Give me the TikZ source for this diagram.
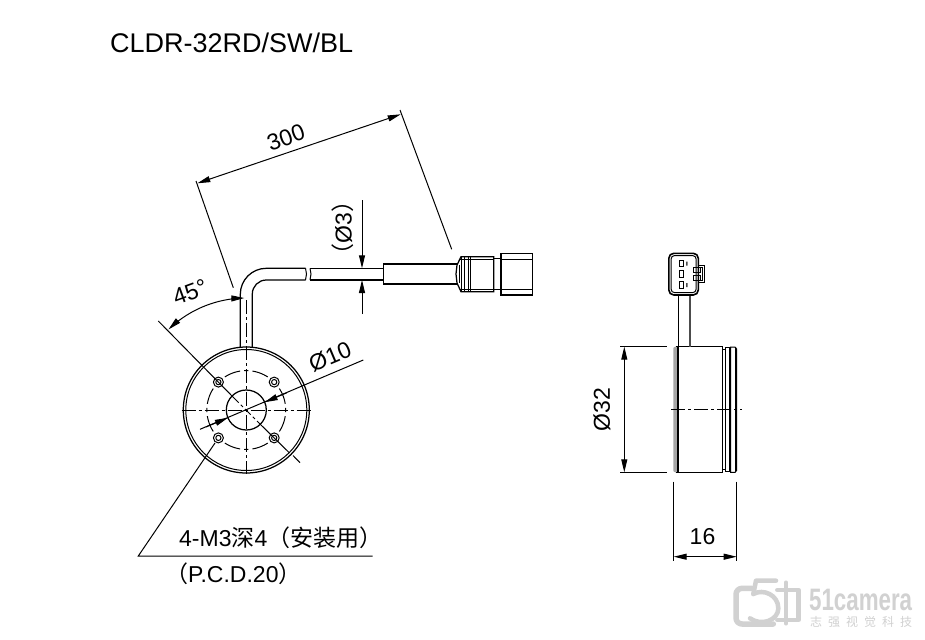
\documentclass[tikz,border=0pt]{standalone}
\usepackage{fontspec}
\setmainfont{Liberation Sans}
\newfontfamily\cjk{Noto Sans CJK SC}
\usetikzlibrary{arrows.meta}
\tikzset{
 ln/.style={line width=1.25pt,black},
 thinln/.style={line width=1pt,black},
 dim/.style={line width=1pt,black},
 dimarrow/.style={line width=1pt,black,-{Stealth[length=13pt,width=6pt,inset=0pt]}},
 dimboth/.style={line width=1pt,black,{Stealth[length=13pt,width=6pt,inset=0pt]}-{Stealth[length=13pt,width=6pt,inset=0pt]}},
 centerln/.style={line width=1pt,black,dash pattern=on 14pt off 3pt on 3pt off 3pt},
 lbl/.style={inner sep=0pt,font=\fontsize{23}{23}\selectfont,text=black},
 wm/.style={line width=4.5pt,wmgray,line cap=round,line join=round},
}
\definecolor{wmgray}{gray}{0.82}
\begin{document}
\begin{tikzpicture}[x=1pt,y=-1pt]
\useasboundingbox (0,0) rectangle (925,639);
\fill[white] (0,0) rectangle (925,639);
% title
\node[lbl,anchor=base west,font=\fontsize{27}{27}\selectfont] (title) at (110,53) {CLDR-32RD/SW/BL};
% front view
\coordinate (c) at (246.3,410);
\draw[ln] (c) circle[radius=63];
\draw[thinln] (c) circle[radius=60.5];
\draw[ln] (c) circle[radius=20];
\foreach \a in {0,90,180,270}{
 \draw[thinln] plot[domain=\a-3:\a+3,samples=5] ({246.3+39.4*cos(\x)},{410+39.4*sin(\x)});
 \draw[thinln] plot[domain=\a+9:\a+33,samples=12] ({246.3+39.4*cos(\x)},{410+39.4*sin(\x)});
 \draw[thinln] plot[domain=\a+57:\a+81,samples=12] ({246.3+39.4*cos(\x)},{410+39.4*sin(\x)});
}
\foreach \dx/\dy in {-27.9/-27.9,27.9/-27.9,-27.9/27.9,27.9/27.9}{
 \draw[thinln] (246.3+\dx,410+\dy) circle[radius=5];
 \draw[thinln] (246.3+\dx,410+\dy) circle[radius=2.6];
}
\draw[centerln] (181.5,410) -- (312,410);
\draw[centerln] (246.3,300) -- (246.3,473.5);
% 45-degree axis
\draw[dim] (158.3,321) -- (233,397);
\draw[dim,dash pattern=on 8pt off 3pt on 3pt off 3pt] (233,397) -- (260,424);
\draw[dim] (260,424) -- (289,452.5);
\draw[dim] (293,455.5) -- (300,462.7);
% cable
\draw[ln,rounded corners=26pt] (240.3,347) -- (240.3,268.3) -- (305.5,268.3);
\draw[ln,rounded corners=14pt] (252.3,347) -- (252.3,280) -- (305.5,280);
\draw[thinln] (305.5,268.3) -- (306.5,274) -- (305.5,280);
\draw[thinln] (310,268.3) -- (311,274) -- (310,280);
\draw[ln] (310,268.3) -- (383.3,268.3);
\draw[ln] (310,280) -- (383.3,280);
% sleeve and connector
\draw[ln] (456.7,264) -- (383.3,264) -- (383.3,284) -- (456.7,284);
\draw[ln] (457,265) -- (461,256.7) -- (493.7,256.7) -- (493.7,291.7) -- (461,291.7) -- (457,283) -- (456,274) -- cycle;
\draw[thinln] (459,265) -- (459,283);
\draw[thinln] (461.7,256.7) -- (461.7,291.7) (464,256.7) -- (464,291.7) (468.3,256.7) -- (468.3,291.7) (470.7,256.7) -- (470.7,291.7);
\draw[thinln] (459.5,259.3) -- (493.7,259.3) (459.5,289.3) -- (493.7,289.3);
\draw[ln] (493.7,258.3) -- (501,258.3) (493.7,289.3) -- (501,289.3);
\draw[ln] (501,253.3) rectangle (532.7,295);
\draw[thinln] (501,259.3) -- (532.7,259.3) (501,289.3) -- (532.7,289.3);
% dim 300
\draw[dim] (196,181) -- (233.3,287.7);
\draw[dim] (400,110) -- (451.7,249.3);
\draw[dimboth] (197.3,183.3) -- (400.7,114.3);
\node[lbl,rotate=20] (t300) at (286,137.5) {300};
% dim dia 3
\draw[dimarrow] (362,200) -- (362,268.3);
\draw[dimarrow] (362,314) -- (362,280);
\node[lbl,rotate=90] (t3) at (343,228) {{\cjk （}Ø3{\cjk ）}};
% angle
\draw[dimboth] plot[domain=226:269,samples=30] ({246.3+112*cos(\x)},{410+112*sin(\x)});
\node[lbl,rotate=20] (t45) at (190,292) {45°};
% dim 10
\draw[dim] (363.3,360) -- (200,429.3);
\draw[dimarrow] (287,392.7) -- (264.7,402.2);
\draw[dimarrow] (206,427) -- (227.9,417.8);
\node[lbl,rotate=23] (t10) at (330,357) {Ø10};
% leader
\draw[dim] (215,443) -- (138.3,556) -- (372.7,556);
\node[lbl,anchor=base west] (tm3) at (179,546.7) {4-M3{\cjk 深}4{\cjk （安装用）}};
\node[lbl,anchor=base west] (tpcd) at (165,582) {{\cjk （}P.C.D.20{\cjk ）}};
% side view body
\fill[gray!70,rounded corners=2pt] (673.3,346.7) rectangle (678,472.3);
\draw[ln] (678,346.7) -- (678,472.3);
\draw[ln] (676,346.7) -- (722.3,346.7) -- (722.3,472.3) -- (676,472.3);
\draw[thinln] (722.3,349.5) -- (725,349.5) -- (725,469.5) -- (722.3,469.5);
\draw[thinln] (725.5,347.5) -- (729,347.5) -- (729,471.5) -- (725.5,471.5) -- cycle;
\draw[thinln] (729,350) -- (730.5,350) (729,469) -- (730.5,469);
\draw[thinln] (730.5,347) -- (735,347) -- (736.7,349) -- (736.7,470.5) -- (735,472.3) -- (730.5,472.3) -- cycle;
\draw[thinln] (735,347) -- (735,472.3);
\draw[centerln] (671,409.7) -- (741.7,409.7);
% side view connector
\draw[ln] (678.3,295) -- (678.3,346.7);
\draw[ln,black!70] (690,295) -- (690,346.7);
\draw[line width=1.6pt,rounded corners=5pt] (668.8,253.3) rectangle (698.3,295);
\draw[thinln,rounded corners=3pt] (671.2,255.7) rectangle (696,292.5);
\draw[thinln] (679.3,260) rectangle (683.3,266.7);
\draw[thinln] (679.3,270.7) rectangle (683.3,277.3);
\draw[thinln] (679.3,281.7) rectangle (683.3,288.7);
\fill[black!70] (686,261.5) rectangle (687.5,265.5) (686,283) rectangle (687.5,287);
\draw[thinln] (698.3,265) -- (704.5,265) -- (704.5,282) -- (698.3,282);
\draw[thinln] (693.5,267) rectangle (700,272) (693.5,275.5) rectangle (700,280);
\draw[thinln] (700,267) -- (702,267) -- (702,280) -- (700,280);
% side dims
\draw[dim] (620,346.7) -- (666.7,346.7);
\draw[dim] (620,472.3) -- (666.7,472.3);
\draw[dimboth] (624.3,346.7) -- (624.3,472.3);
\node[lbl,rotate=90] (t32) at (602,409.7) {Ø32};
\draw[dim] (673.7,481.7) -- (673.7,561);
\draw[dim] (736.7,481.7) -- (736.7,561);
\draw[dimboth] (673.7,556.7) -- (736.7,556.7);
\node[lbl] (t16) at (702.5,537) {16};
% watermark
\begin{scope}[shift={(720,570)},x=0.3333pt,y=-0.3333pt]
\draw[wm,line width=5.5pt,rounded corners=6pt] (95,55) -- (48,55) -- (48,162) -- (160,162) ;
\draw[wm] (108,32) -- (168,32) (108,32) -- (100,72);
\draw[wm] (100,72) .. controls (130,55) and (175,75) .. (175,115) .. controls (175,150) and (125,170) .. (90,145);
\draw[wm] (198,38) -- (198,160);
\draw[wm] (172,60) -- (235,60) -- (235,150) -- (172,150);
\end{scope}
\node[inner sep=0pt,anchor=base west,text=wmgray,font=\fontsize{31}{31}\selectfont\bfseries,xscale=0.72,transform shape] (wm1) at (809,610) {51camera};
\node[inner sep=0pt,anchor=base west,text=wmgray,font=\fontsize{12}{12}\selectfont\cjk] (wm2) at (810,626) {志\hspace{6pt}强\hspace{6pt}视\hspace{6pt}觉\hspace{6pt}科\hspace{6pt}技};
\end{tikzpicture}
\end{document}
